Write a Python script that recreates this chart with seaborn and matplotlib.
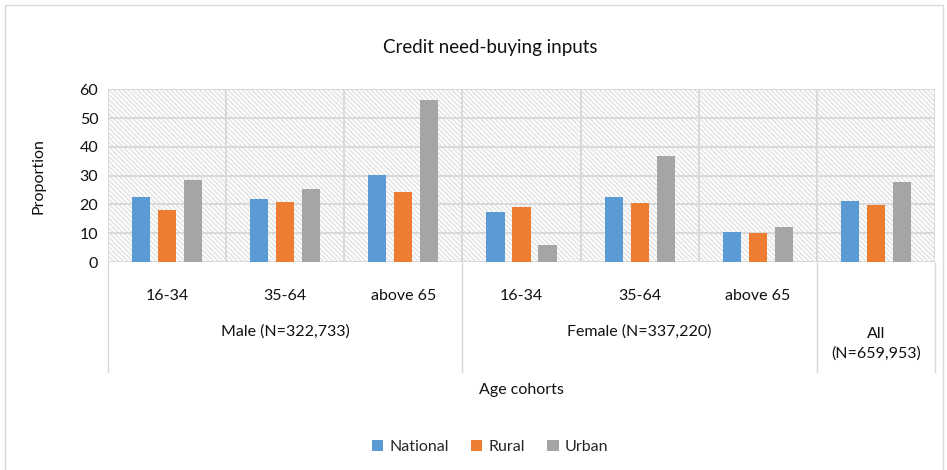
import numpy as np
import pandas as pd
import seaborn as sns
import matplotlib.pyplot as plt
from matplotlib.patches import Rectangle
from matplotlib.lines import Line2D

sns.set_theme(style='white')
plt.rcParams['font.family'] = ['Lato', 'DejaVu Sans']
plt.rcParams['hatch.linewidth'] = 1.1

# values
age_labels = ['16-34', '35-64', 'above 65', '16-34', '35-64', 'above 65', '']
gender_labels = ['Male (N=322,733)', 'Female (N=337,220)', 'All\n(N=659,953)']
gender_spans = [(0, 2), (3, 5), (6, 6)]
areas = ['National', 'Rural', 'Urban']
national = [22.5, 21.8, 30.2, 17.3, 22.6, 10.4, 21.2]
rural = [18.1, 20.8, 24.3, 19.0, 20.4, 10.0, 19.9]
urban = [28.5, 25.4, 56.3, 6.0, 36.9, 12.3, 27.9]
yticks = [0, 10, 20, 30, 40, 50, 60]

cpal = ['#5B9BD5', '#ED7D31', '#A5A5A5']
grid_col = '#d9d9d9'
text_col = '#111111'

slots = list(range(len(age_labels)))
df = pd.DataFrame({
    'slot': slots * 3,
    'area': np.repeat(areas, len(slots)),
    'value': national + rural + urban,
})

fig = plt.figure(figsize=(9.47, 4.70), dpi=100)
ax = fig.add_axes([108 / 947, 1 - 262 / 470, 827 / 947, 172.7 / 470])

# hatched plot-area background
ax.patch.set_visible(False)
ax.add_patch(Rectangle((0, 0), 1, 1, transform=ax.transAxes, facecolor='white',
                       edgecolor='#e3e3e3', hatch='\\' * 7, linewidth=0, zorder=0))

sns.barplot(data=df, x='slot', y='value', hue='area', hue_order=areas, palette=cpal,
            width=0.66, gap=0.3, saturation=1, linewidth=0, legend=False, ax=ax, zorder=2)

ax.set_xlim(-0.5, len(slots) - 0.5)
ax.set_ylim(0, 60)
ax.set_yticks(yticks)
ax.set_yticklabels([str(t) for t in yticks], fontsize=11.5, color=text_col)
ax.tick_params(axis='y', length=0, pad=7)
ax.set_xticks([])
ax.set_xlabel('')
ax.set_ylabel('Proportion', fontsize=11.5, color=text_col)
ax.yaxis.set_label_coords(-0.075, 0.5)
for s in ax.spines.values():
    s.set_visible(False)

# grid lines
for t in yticks:
    ax.axhline(t, color=grid_col, lw=1.4, zorder=1)
for b in np.arange(-0.5, len(slots), 1.0):
    ax.axvline(b, color=grid_col, lw=1.4, zorder=1)

# multi-level category axis
for i, lab in enumerate(age_labels):
    ax.text(i, -0.197, lab, transform=ax.get_xaxis_transform(), ha='center', va='center',
            fontsize=11.5, color=text_col)
for lab, (a, b) in zip(gender_labels, gender_spans):
    yy = -0.405 if '\n' not in lab else -0.472
    ax.text((a + b) / 2, yy, lab, transform=ax.get_xaxis_transform(), ha='center', va='center',
            fontsize=11.5, color=text_col, linespacing=1.5)
for b in [-0.5, 2.5, 5.5, 6.5]:
    ax.add_line(Line2D([b, b], [0, -0.637], transform=ax.get_xaxis_transform(),
                       color=grid_col, lw=1.0, clip_on=False))

fig.text(521.5 / 947, 1 - 390 / 470, 'Age cohorts', ha='center', va='center',
         fontsize=11.5, color=text_col)
fig.text(490 / 947, 1 - 47 / 470, 'Credit need-buying inputs', ha='center', va='center',
         fontsize=13.5, color=text_col)

handles = [Rectangle((0, 0), 1, 1, facecolor=c, linewidth=0) for c in cpal]
fig.legend(handles, areas, loc='center', bbox_to_anchor=(490 / 947, 1 - 447 / 470), ncol=3,
           frameon=False, fontsize=11.5, handlelength=0.7, handleheight=0.7,
           handletextpad=0.4, columnspacing=1.4)

# chart border
fig.add_artist(Rectangle((5 / 947, -0.01), 0.99, 1 - 5 / 470 + 0.01, transform=fig.transFigure,
                         facecolor='none', edgecolor=grid_col, lw=1.0))

fig.savefig('out.png', dpi=100)
